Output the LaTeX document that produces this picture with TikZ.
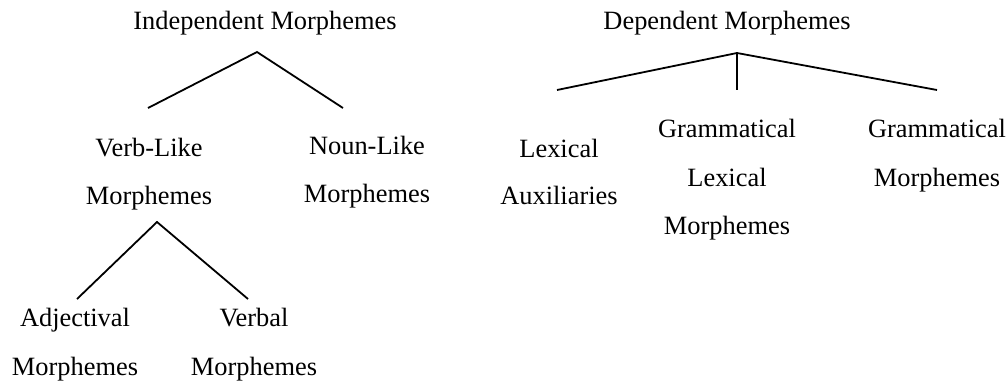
\documentclass[tikz,border=0pt]{standalone}
\usepackage{fontspec}
\setmainfont{Liberation Serif}
\tikzset{
  lbl/.style={anchor=base, inner sep=0pt, font=\fontsize{26.4}{30}\selectfont},
  branch/.style={line width=1.8pt, line cap=butt, line join=miter},
}
\begin{document}
\begin{tikzpicture}[x=1pt,y=-1pt]
\useasboundingbox (0,0) rectangle (1008,381);
% labels
\node[lbl] (ind) at (265,29.5) {Independent Morphemes};
\node[lbl] (dep) at (727,29.5) {Dependent Morphemes};
\node[lbl] (vl1) at (149,156) {Verb-Like};
\node[lbl] (vl2) at (149,204) {Morphemes};
\node[lbl] (nl1) at (367,154) {Noun-Like};
\node[lbl] (nl2) at (367,202) {Morphemes};
\node[lbl] (la1) at (559,157) {Lexical};
\node[lbl] (la2) at (559,204) {Auxiliaries};
\node[lbl] (gl1) at (727,137.5) {Grammatical};
\node[lbl] (gl2) at (727,186) {Lexical};
\node[lbl] (gl3) at (727,234) {Morphemes};
\node[lbl] (gm1) at (937,137.5) {Grammatical};
\node[lbl] (gm2) at (937,186) {Morphemes};
\node[lbl] (ad1) at (75,326) {Adjectival};
\node[lbl] (ad2) at (75,375) {Morphemes};
\node[lbl] (vb1) at (254,326) {Verbal};
\node[lbl] (vb2) at (254,375) {Morphemes};
% branch points
\coordinate (indtop) at (257,52);
\coordinate (indL) at (148,108);
\coordinate (indR) at (343,108);
\coordinate (deptop) at (737,53);
\coordinate (depL) at (557,90);
\coordinate (depM) at (737,90);
\coordinate (depR) at (937,90);
\coordinate (vltop) at (157,222);
\coordinate (vlL) at (77,299);
\coordinate (vlR) at (248,299);
% connectors
\draw[branch] (indL) -- (indtop) -- (indR);
\draw[branch] (depL) -- (deptop) -- (depR);
\draw[branch] (deptop) -- (depM);
\draw[branch] (vlL) -- (vltop) -- (vlR);
\end{tikzpicture}
\end{document}
